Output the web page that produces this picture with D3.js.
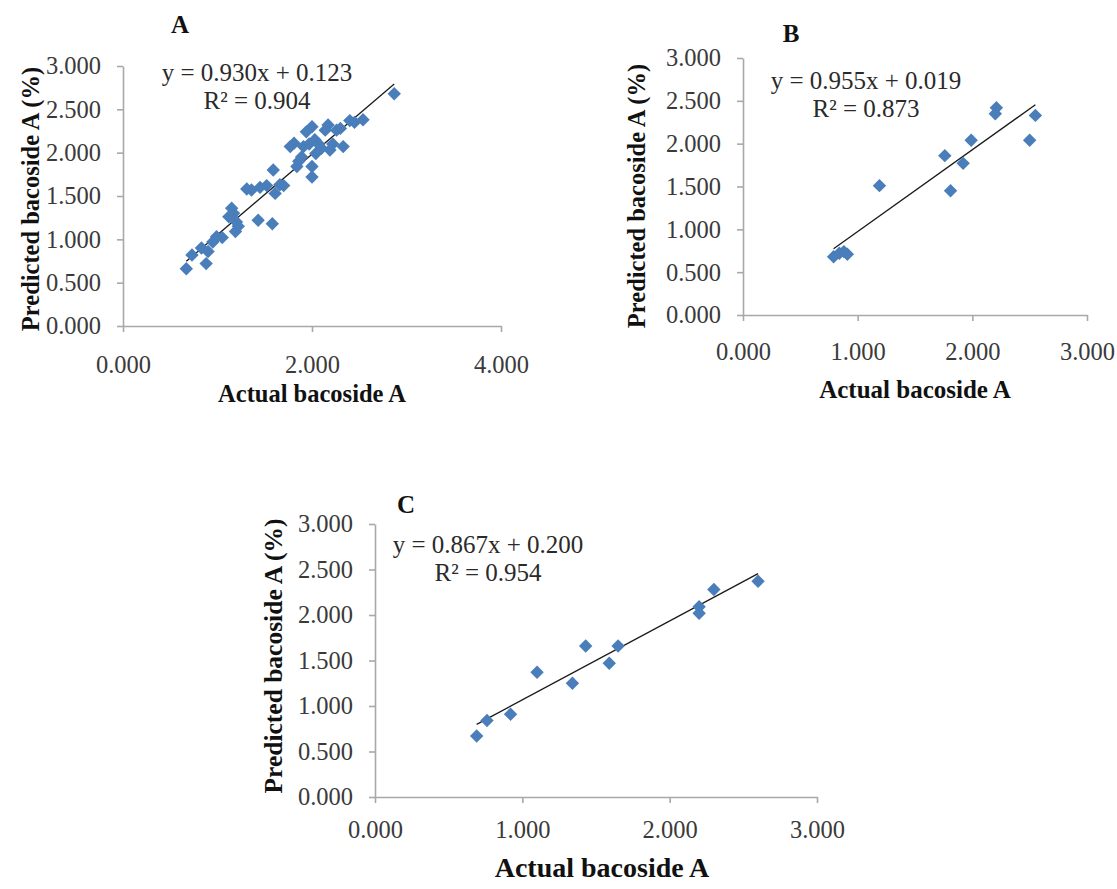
<!DOCTYPE html>
<html>
<head>
<meta charset="utf-8">
<script src="https://cdn.jsdelivr.net/npm/d3@7"></script>
<style>
    body { margin: 0; background: #fff; }
    svg { display: block; }
    .tick text { font-family: "Liberation Serif", "Times New Roman", serif; fill: #3a3a3a; }
</style>
</head>
<body>
<div id="chart"></div>
<script>
// actual vs predicted bacoside A
const setA = [
    [0.67, 0.66], [0.73, 0.82], [0.83, 0.90], [0.88, 0.72], [0.90, 0.86],
    [0.95, 0.97], [0.99, 1.03], [1.05, 1.02], [1.12, 1.26], [1.15, 1.36],
    [1.17, 1.30], [1.19, 1.09], [1.20, 1.20], [1.22, 1.15], [1.31, 1.58],
    [1.36, 1.57], [1.43, 1.22], [1.45, 1.60], [1.52, 1.62], [1.58, 1.18],
    [1.59, 1.80], [1.61, 1.53], [1.66, 1.63], [1.70, 1.62], [1.77, 2.07],
    [1.81, 2.11], [1.84, 1.84], [1.86, 1.90], [1.89, 1.95], [1.91, 2.07],
    [1.94, 2.24], [1.97, 2.10], [2.00, 2.30], [2.00, 1.84], [2.00, 1.72],
    [2.03, 2.15], [2.04, 1.99], [2.07, 2.10], [2.10, 2.05], [2.14, 2.26],
    [2.17, 2.32], [2.19, 2.03], [2.22, 2.10], [2.26, 2.26], [2.30, 2.28],
    [2.33, 2.07], [2.40, 2.37], [2.45, 2.35], [2.54, 2.38], [2.87, 2.68],
];
const setB = [
    [0.79, 0.68], [0.84, 0.72], [0.88, 0.74], [0.91, 0.71], [1.19, 1.51],
    [1.76, 1.86], [1.81, 1.45], [1.92, 1.77], [1.99, 2.04], [2.20, 2.35],
    [2.21, 2.42], [2.50, 2.04], [2.55, 2.33],
];
const setC = [
    [0.69, 0.67], [0.76, 0.84], [0.92, 0.91], [1.10, 1.37], [1.34, 1.25],
    [1.43, 1.66], [1.59, 1.47], [1.65, 1.66], [2.20, 2.09], [2.20, 2.02],
    [2.30, 2.28], [2.60, 2.37],
];

// trendline coefficients as printed
const fitA = {slope: 0.930, icept: 0.123, r2: 0.904};
const fitB = {slope: 0.955, icept: 0.019, r2: 0.873};
const fitC = {slope: 0.867, icept: 0.200, r2: 0.954};

const yTicks = [0, 0.5, 1, 1.5, 2, 2.5, 3];
const xTicksA = [0, 2, 4];
const xTicksB = [0, 1, 2, 3];
const xTicksC = [0, 1, 2, 3];

const W = 1117;
const H = 889;
const fmt = d3.format('.3f');
const blue = '#4a7ebb';
const serif = '"Liberation Serif", "Times New Roman", serif';

const svg = d3.select('#chart')
    .append('svg')
    .attr('width', W)
    .attr('height', H);

const panels = [
    {
        letter: 'A', data: setA, fit: fitA, xDomain: [0, 4], xTicks: xTicksA,
        xRange: [123, 501], yRange: [326, 66], font: 24.5, xPad: 24,
        letterPos: [180, 33], eqPos: [257, 81], yTitle: [30, 199], yTitleSize: 24.5,
        xTitle: [312, 402], xTitleSize: 24.5,
    },
    {
        letter: 'B', data: setB, fit: fitB, xDomain: [0, 3], xTicks: xTicksB,
        xRange: [743, 1087], yRange: [315, 58], font: 24.5, xPad: 22,
        letterPos: [791, 42], eqPos: [866, 89], yTitle: [636, 196], yTitleSize: 24.5,
        xTitle: [915, 398], xTitleSize: 25,
    },
    {
        letter: 'C', data: setC, fit: fitC, xDomain: [0, 3], xTicks: xTicksC,
        xRange: [375, 817], yRange: [797, 524], font: 24.5, xPad: 18,
        letterPos: [406, 513], eqPos: [488, 553], yTitle: [273, 656], yTitleSize: 25.5,
        xTitle: [602, 877], xTitleSize: 28,
    },
];

function drawPanel(p) {
    const x = d3.scaleLinear().domain(p.xDomain).range(p.xRange);
    const y = d3.scaleLinear().domain([0, 3]).range(p.yRange);
    const g = svg.append('g').attr('class', 'panel-' + p.letter);

    const yAxis = d3.axisLeft(y)
        .tickValues(yTicks)
        .tickFormat(fmt)
        .tickSizeInner(6)
        .tickSizeOuter(0)
        .tickPadding(16);
    const xAxis = d3.axisBottom(x)
        .tickValues(p.xTicks)
        .tickFormat(fmt)
        .tickSizeInner(6)
        .tickSizeOuter(0)
        .tickPadding(p.xPad);

    g.append('g')
        .attr('transform', 'translate(' + p.xRange[0] + ',0)')
        .call(yAxis);
    g.append('g')
        .attr('transform', 'translate(0,' + p.yRange[0] + ')')
        .call(xAxis);

    g.selectAll('.domain, .tick line')
        .attr('stroke', '#a9a9a9')
        .attr('stroke-width', 1.6);
    g.selectAll('.tick text')
        .attr('font-size', p.font);

    // trendline over the range of the data
    const ext = d3.extent(p.data, (d) => d[0]);
    g.append('line')
        .attr('x1', x(ext[0]))
        .attr('y1', y(p.fit.slope * ext[0] + p.fit.icept))
        .attr('x2', x(ext[1]))
        .attr('y2', y(p.fit.slope * ext[1] + p.fit.icept))
        .attr('stroke', '#1a1a1a')
        .attr('stroke-width', 1.3);

    const diamond = d3.symbol().type(d3.symbolSquare).size(90);
    g.selectAll('.pt')
        .data(p.data)
        .enter()
        .append('path')
        .attr('class', 'pt')
        .attr('d', diamond)
        .attr('transform', (d) => 'translate(' + x(d[0]) + ',' + y(d[1]) + ') rotate(45)')
        .attr('fill', blue);

    // labels
    g.append('text')
        .attr('x', p.letterPos[0])
        .attr('y', p.letterPos[1])
        .attr('text-anchor', 'middle')
        .attr('font-family', serif)
        .attr('font-weight', 'bold')
        .attr('font-size', 25)
        .attr('fill', '#111')
        .text(p.letter);

    const eq = g.append('text')
        .attr('text-anchor', 'middle')
        .attr('font-family', serif)
        .attr('font-size', 25)
        .attr('fill', '#2a2a2a');
    eq.append('tspan')
        .attr('x', p.eqPos[0])
        .attr('y', p.eqPos[1])
        .text('y = ' + p.fit.slope.toFixed(3) + 'x + ' + p.fit.icept.toFixed(3));
    eq.append('tspan')
        .attr('x', p.eqPos[0])
        .attr('y', p.eqPos[1] + 28)
        .text('R² = ' + p.fit.r2.toFixed(3));

    g.append('text')
        .attr('transform', 'translate(' + p.yTitle[0] + ',' + p.yTitle[1] + ') rotate(-90)')
        .attr('dy', '0.35em')
        .attr('text-anchor', 'middle')
        .attr('font-family', serif)
        .attr('font-weight', 'bold')
        .attr('font-size', p.yTitleSize)
        .attr('fill', '#111')
        .text('Predicted bacoside A (%)');

    g.append('text')
        .attr('x', p.xTitle[0])
        .attr('y', p.xTitle[1])
        .attr('text-anchor', 'middle')
        .attr('font-family', serif)
        .attr('font-weight', 'bold')
        .attr('font-size', p.xTitleSize)
        .attr('fill', '#111')
        .text('Actual bacoside A');
}

panels.forEach(drawPanel);
</script>
</body>
</html>
